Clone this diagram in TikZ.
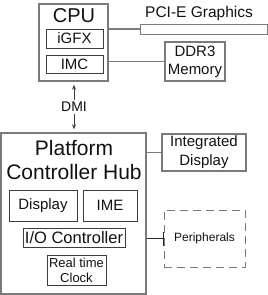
\documentclass[tikz,border=0pt]{standalone}
\usepackage{fontspec}
\setmainfont{Liberation Sans}
\usetikzlibrary{arrows.meta}
\definecolor{outer}{HTML}{7A7A7A}
\definecolor{inner}{HTML}{3C3C3C}
\definecolor{txt}{HTML}{111111}
\tikzset{
  outerbox/.style={draw=outer, line width=1.4pt, inner sep=0pt, text=txt},
  innerbox/.style={draw=inner, line width=0.9pt, inner sep=0pt, align=center, text=txt},
  dashbox/.style={draw=outer, line width=1pt, dash pattern=on 8pt off 5pt, inner sep=0pt, align=center, text=txt},
  conn/.style={draw=outer, line width=1.3pt},
  thinconn/.style={draw=black!85, line width=0.8pt},
  arr/.style={draw=inner, line width=0.8pt, {Stealth[length=5pt,width=4pt]}-{Stealth[length=5pt,width=4pt]}},
  lbl/.style={inner sep=0pt, text=txt, align=center}
}
\begin{document}
\begin{tikzpicture}[x=1pt,y=-1pt]
\useasboundingbox (0,0) rectangle (268,295);
% CPU
\node[outerbox, minimum width=69pt, minimum height=77pt] (cpu) at (73.5,42.5) {};
\node[lbl, font=\fontsize{20}{24}\selectfont] (cputxt) at (74,15.5) {CPU};
\node[innerbox, minimum width=57pt, minimum height=19pt, font=\fontsize{15}{18}\selectfont] (igfx) at (74.5,38.5) {iGFX};
\node[innerbox, minimum width=57pt, minimum height=18pt, font=\fontsize{15}{18}\selectfont] (imc) at (74.5,64) {IMC};
% PCI-E
\node[lbl, font=\fontsize{15.5}{18}\selectfont] (pcitxt) at (199,13) {PCI-E Graphics};
\node[innerbox, draw=outer, line width=1pt, minimum width=127pt, minimum height=10pt] (pci) at (203.5,29) {};
\draw[conn] (cpu.east |- pci.west) -- (pci.west);
% DDR3
\node[innerbox, draw=outer, line width=1.2pt, minimum width=60pt, minimum height=39pt, font=\fontsize{15}{18}\selectfont] (ddr) at (195,61.5) {DDR3\\Memory};
\draw[conn] (cpu.east |- ddr.west) -- (ddr.west);
% PCH
\node[outerbox, minimum width=145pt, minimum height=161pt] (pch) at (73.5,213.5) {};
\node[lbl, font=\fontsize{21}{24}\selectfont] (pchtxt) at (74,160) {Platform\\Controller Hub};
% DMI
\draw[arr] ([yshift=-3pt]cpu.south -| 74,0) -- node[lbl, fill=white, inner ysep=2pt, font=\fontsize{14}{16}\selectfont] (dmi) {DMI} ([yshift=3pt]pch.north -| 74,0);
% Integrated Display
\node[innerbox, draw=outer, line width=1.2pt, minimum width=84pt, minimum height=37pt, font=\fontsize{15}{19}\selectfont] (idisp) at (204,152.5) {Integrated\\Display};
\draw[conn] (pch.east |- idisp.west) -- (idisp.west);
% inner PCH boxes
\node[innerbox, minimum width=68pt, minimum height=31pt, font=\fontsize{15}{18}\selectfont] (disp) at (43,205.5) {Display};
\node[innerbox, minimum width=54pt, minimum height=31pt, font=\fontsize{15}{18}\selectfont] (ime) at (110,205.5) {IME};
\node[innerbox, minimum width=102pt, minimum height=19pt, font=\fontsize{16.5}{18}\selectfont] (io) at (74,237.5) {I/O Controller};
\node[innerbox, minimum width=59pt, minimum height=30pt, font=\fontsize{13}{15}\selectfont] (rtc) at (76.5,270) {Real time\\Clock};
% Peripherals
\node[dashbox, minimum width=81pt, minimum height=57pt, font=\fontsize{12}{14}\selectfont] (per) at (204.5,238.5) {Peripherals};
\draw[thinconn] (pch.east |- per.west) -- (per.west);
\draw[thinconn] ([yshift=7pt]per.west) -- ([yshift=-7pt]per.west);
\end{tikzpicture}
\end{document}
